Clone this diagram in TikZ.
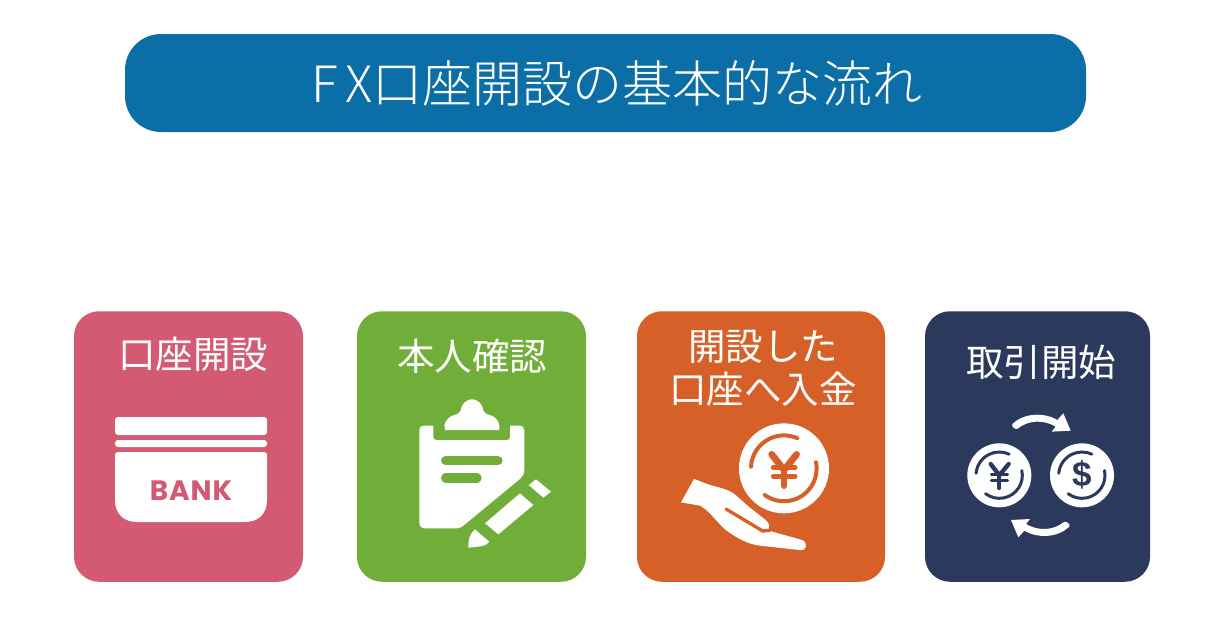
\documentclass[tikz,border=0pt]{standalone}
\usepackage{fontspec}
\setmainfont{Noto Sans CJK JP}
\newfontfamily\titlefont{Noto Sans CJK JP Light}
\newfontfamily\bankfont[LetterSpace=3]{Poppins Bold}
\newfontfamily\dollarfont{Liberation Sans}
\definecolor{cblue}{HTML}{0B6EA6}
\definecolor{cpink}{HTML}{D35A72}
\definecolor{cgreen}{HTML}{70AD39}
\definecolor{corange}{HTML}{D66027}
\definecolor{cnavy}{HTML}{2B3A5C}
\tikzset{
  card/.style={rounded corners=25pt,minimum height=270.5pt,inner sep=0pt,outer sep=0pt,anchor=center},
  cardtext/.style={text=white,align=center,inner sep=0pt,font=\fontsize{37.5}{43}\selectfont},
  zoomed/.style={x=0.33333pt,y=-0.33333pt},
  slot/.style={line width=#1,line cap=round},
}
\begin{document}
\begin{tikzpicture}[x=1pt,y=-1pt]
\useasboundingbox (0,0) rectangle (1224,637);
\fill[white] (0,0) rectangle (1224,637);
% title
\node[fill=cblue,rounded corners=36pt,minimum width=961pt,minimum height=98pt,inner sep=0pt] (title) at (605.5,83) {};
\node[text=white,inner sep=0pt,font=\fontsize{50}{54}\titlefont] (titletext) at (617,83) {{\addfontfeature{LetterSpace=17}FX}口座開設の基本的な流れ};
% cards
\node[card,fill=cpink,minimum width=229pt] (c1) at (188.5,446.5) {};
\node[card,fill=cgreen,minimum width=229pt] (c2) at (471.5,446.5) {};
\node[card,fill=corange,minimum width=248pt] (c3) at (761,446.5) {};
\node[card,fill=cnavy,minimum width=225pt] (c4) at (1037.5,446.5) {};
\node[cardtext] (t1) at (193,354) {口座開設};
\node[cardtext] (t2) at (472,356) {本人確認};
\node[cardtext] (t3) at (763,368) {開設した\\口座へ入金};
\node[cardtext] (t4) at (1041,362) {取引開始};
% bank icon
\fill[white,rounded corners=3pt] (115,417) rectangle (267,435);
\fill[white,rounded corners=3pt] (115,440) rectangle (267,447);
\fill[white] (118,452) -- (264,452) .. controls (266,452) and (267,453) .. (267,455) -- (267,500) .. controls (267,514) and (258,522) .. (245,522) -- (137,522) .. controls (124,522) and (115,514) .. (115,500) -- (115,455) .. controls (115,453) and (116,452) .. (118,452) -- cycle;
\node[text=cpink,inner sep=0pt,font=\fontsize{28}{30}\bankfont] (bank) at (191,491) {BANK};
% clipboard icon
\begin{scope}[shift={(390,390)},zoomed]
\fill[white] (100,107) -- (130,107) -- (130,140) .. controls (130,147) and (133,150) .. (140,150) -- (350,150) .. controls (357,150) and (360,147) .. (360,140) -- (360,107) -- (388,107) .. controls (398,107) and (403,113) .. (403,122) -- (403,240) .. controls (403,250) and (400,258) .. (392,265) -- (225,403) .. controls (218,410) and (210,415) .. (200,415) -- (105,415) .. controls (94,415) and (88,408) .. (88,398) -- (88,120) .. controls (88,112) and (92,107) .. (100,107) -- cycle;
\fill[white] (165,120) -- (328,120) -- (328,105) .. controls (325,85) and (305,75) .. (290,72) .. controls (282,70) and (280,62) .. (277,50) .. controls (270,35) and (258,28) .. (246,28) .. controls (234,28) and (222,35) .. (215,50) .. controls (212,62) and (210,70) .. (202,72) .. controls (187,75) and (167,85) .. (163,105) -- cycle;
\draw[cgreen,slot=9.3pt] (167,212) -- (324,212);
\draw[cgreen,slot=9.3pt] (167,264) -- (261,264);
\fill[white] (390,310) -- (430,345) -- (325,433) -- (285,400) -- cycle;
\fill[white] (438,268) -- (483,305) -- (460,323) -- (416,285) -- cycle;
\fill[white] (255,418) -- (298,455) .. controls (290,468) and (270,470) .. (235,473) .. controls (235,450) and (238,432) .. (255,418) -- cycle;
\end{scope}
% coin and hand icon
\begin{scope}[shift={(670,415)},zoomed]
\fill[white] (342,160) circle[radius=135];
\draw[corange,slot=4pt] (243,155) arc[start angle=183,end angle=294,radius=99];
\draw[corange,slot=4pt] (438,142) arc[start angle=-11,end angle=126,radius=98];
\draw[corange,slot=6.7pt] (305,118) -- (342,165) -- (380,118);
\draw[corange,slot=6.7pt] (342,165) -- (342,212);
\draw[corange,slot=5pt] (310,158) -- (375,158);
\draw[corange,slot=5pt] (310,183) -- (375,183);
\fill[white] (72,192) -- (120,210) .. controls (150,218) and (170,222) .. (190,235) .. controls (210,250) and (220,262) .. (240,278) -- (288,316) .. controls (298,325) and (300,335) .. (296,342) -- (306,350) -- (390,373) .. controls (405,377) and (410,385) .. (408,393) .. controls (405,403) and (398,407) .. (388,405) -- (270,392) .. controls (235,388) and (200,370) .. (165,343) .. controls (140,320) and (125,298) .. (105,282) -- (90,272) -- (33,262) -- cycle;
\draw[corange,slot=3.3pt] (168,282) -- (278,348) -- (300,346);
\end{scope}
% exchange icon
\begin{scope}[shift={(950,400)},zoomed]
\fill[white] (148,226) circle[radius=96];
\fill[white] (396,226) circle[radius=96];
\foreach \cx in {148,396}{
  \draw[cnavy,slot=3pt] (\cx,226) ++(185:70) arc[start angle=185,end angle=295,radius=70];
  \draw[cnavy,slot=3pt] (\cx,226) ++(-12:69) arc[start angle=-12,end angle=127,radius=69];
}
\draw[cnavy,slot=4.3pt] (122,192) -- (148,226) -- (176,192);
\draw[cnavy,slot=4.3pt] (148,226) -- (148,264);
\draw[cnavy,slot=3pt] (124,224) -- (173,224);
\draw[cnavy,slot=3pt] (124,241) -- (173,241);
\node[text=cnavy,inner sep=0pt,font=\fontsize{35}{40}\dollarfont\bfseries] (dollar) at (396,224) {\$};
\fill[white] (187,72) .. controls (220,40) and (280,35) .. (322,60) -- (340,40) -- (362,92) -- (305,95) -- (317,80) .. controls (280,58) and (235,60) .. (203,86) .. controls (198,90) and (182,80) .. (187,72) -- cycle;
\begin{scope}[rotate around={180:(272.5,226)}]
\fill[white] (187,72) .. controls (220,40) and (280,35) .. (322,60) -- (340,40) -- (362,92) -- (305,95) -- (317,80) .. controls (280,58) and (235,60) .. (203,86) .. controls (198,90) and (182,80) .. (187,72) -- cycle;
\end{scope}
\end{scope}
\end{tikzpicture}
\end{document}
